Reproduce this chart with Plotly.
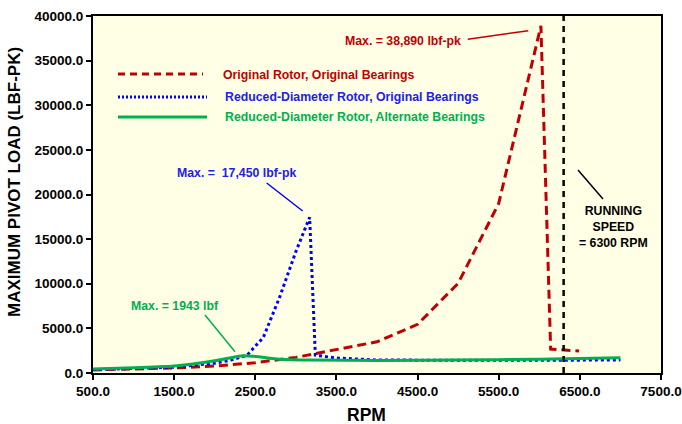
import plotly.graph_objects as go

# ---------------- data ----------------
rpm_orig = [500, 1000, 1500, 2000, 2500, 3000, 3500, 4000, 4500, 5000, 5500, 6020, 6140, 6490]
load_orig = [350, 430, 560, 780, 1150, 1750, 2600, 3500, 5450, 10050, 19000, 38890, 2690, 2460]

rpm_red_dia = [500, 1000, 1500, 2000, 2200, 2400, 2600, 2800, 2900, 3000, 3170, 3240, 3500, 4000, 5000, 6000, 7000]
load_red_dia = [380, 500, 650, 1100, 1450, 2000, 4000, 8500, 11000, 13600, 17450, 2000, 1680, 1460, 1420, 1430, 1450]

rpm_alt = [500, 1000, 1500, 2000, 2350, 2500, 2800, 3200, 4000, 5000, 6000, 7000]
load_alt = [450, 600, 780, 1380, 1943, 1850, 1550, 1450, 1400, 1450, 1550, 1700]

series_names = ["Original Rotor, Original Bearings",
                "Reduced-Diameter Rotor, Original Bearings",
                "Reduced-Diameter Rotor, Alternate Bearings"]
running_speed = 6300

x_ticks = [500, 1500, 2500, 3500, 4500, 5500, 6500, 7500]
y_ticks = [0, 5000, 10000, 15000, 20000, 25000, 30000, 35000, 40000]

RED = "#C00000"
BLUE = "#0000FF"
BLUE_TXT = "#2020EE"
GREEN = "#00B050"
FONT = "Liberation Sans, Arial, sans-serif"

# ---------------- layout geometry ----------------
W, H = 682, 424
ML, MR, MT, MB = 93, 21, 16, 51
PW, PH = W - ML - MR, H - MT - MB


def px(x):
    return (x - ML) / PW


def py(y):
    return (H - MB - y) / PH


fig = go.Figure()
fig.add_trace(go.Scatter(x=rpm_orig, y=load_orig, mode="lines", name=series_names[0],
                         line=dict(color=RED, width=3, dash="9px,5px")))
fig.add_trace(go.Scatter(x=rpm_red_dia, y=load_red_dia, mode="lines", name=series_names[1],
                         line=dict(color=BLUE, width=3, dash="3px,3px")))
fig.add_trace(go.Scatter(x=rpm_alt, y=load_alt, mode="lines", name=series_names[2],
                         line=dict(color=GREEN, width=3, shape="spline", smoothing=0.6)))

shapes = []
# running speed line
shapes.append(dict(type="line", xref="x", yref="paper", x0=running_speed, x1=running_speed,
                   y0=0, y1=1, line=dict(color="black", width=2.5, dash="6px,5px")))
# legend samples
shapes.append(dict(type="line", xref="paper", yref="paper", x0=px(118), x1=px(203),
                   y0=py(74), y1=py(74), line=dict(color=RED, width=3, dash="7px,5px")))
shapes.append(dict(type="line", xref="paper", yref="paper", x0=px(118), x1=px(207),
                   y0=py(97), y1=py(97), line=dict(color=BLUE, width=3, dash="2px,2px")))
shapes.append(dict(type="line", xref="paper", yref="paper", x0=px(118), x1=px(207),
                   y0=py(117), y1=py(117), line=dict(color=GREEN, width=3)))
# leader lines
for (x0, y0, x1, y1, c) in [(467.7, 39.3, 528.3, 30.7, RED),
                            (266.7, 183, 302.7, 211, BLUE),
                            (205, 315, 235, 351.7, GREEN),
                            (578, 170, 603, 199, "black")]:
    shapes.append(dict(type="line", xref="paper", yref="paper", x0=px(x0), x1=px(x1),
                       y0=py(y0), y1=py(y1), line=dict(color=c, width=1.5)))

annotations = []


def txt(text, x, y, color, size=12, xanchor="center"):
    annotations.append(dict(text=text, xref="paper", yref="paper", x=px(x), y=py(y),
                            xanchor=xanchor, yanchor="middle", showarrow=False,
                            font=dict(family=FONT, size=size, color=color, weight="bold")))


# legend labels
txt(series_names[0], 220.5, 75, RED, 12.3, "left")
txt(series_names[1], 223, 97, BLUE_TXT, 12.3, "left")
txt(series_names[2], 223, 117, GREEN, 12.3, "left")
# max labels
txt("Max. = 38,890 lbf-pk", 403, 41, RED, 12.3)
txt("Max. =  17,450 lbf-pk", 236, 173, BLUE_TXT, 12.3)
txt("Max. = 1943 lbf", 174.5, 306, GREEN, 12.3)
txt("RUNNING<br>SPEED<br>= 6300 RPM", 613, 227, "black", 12.3)
# axis titles
annotations.append(dict(text="MAXIMUM PIVOT LOAD (LBF-PK)", xref="paper", yref="paper",
                        x=px(14), y=py(182), textangle=-90, showarrow=False,
                        xanchor="center", yanchor="middle",
                        font=dict(family=FONT, size=17, color="black", weight="bold")))
annotations.append(dict(text="RPM", xref="paper", yref="paper",
                        x=px(366), y=py(415), showarrow=False,
                        xanchor="center", yanchor="middle",
                        font=dict(family=FONT, size=17.5, color="black", weight="bold")))

fig.update_layout(
    width=W, height=H,
    margin=dict(l=ML, r=MR, t=MT, b=MB, autoexpand=False),
    paper_bgcolor="white",
    plot_bgcolor="#FFFFE5",
    showlegend=False,
    shapes=shapes,
    annotations=annotations,
    font=dict(family=FONT, color="black"),
)
fig.update_xaxes(range=[500, 7500], tickvals=x_ticks, tickformat=".1f", automargin=False,
                 showgrid=False, zeroline=False, showline=True, linecolor="black",
                 linewidth=2, mirror=True, ticks="outside", ticklen=5, tickwidth=2,
                 tickcolor="black",
                 tickfont=dict(family=FONT, size=13.5, color="black", weight="bold"))
fig.update_yaxes(range=[0, 40000], tickvals=y_ticks, tickformat=".1f", automargin=False,
                 showgrid=False, zeroline=False, showline=True, linecolor="black",
                 linewidth=2, mirror=True, ticks="outside", ticklen=5, tickwidth=2,
                 tickcolor="black",
                 tickfont=dict(family=FONT, size=13.5, color="black", weight="bold"))

fig.write_html("out.html")
